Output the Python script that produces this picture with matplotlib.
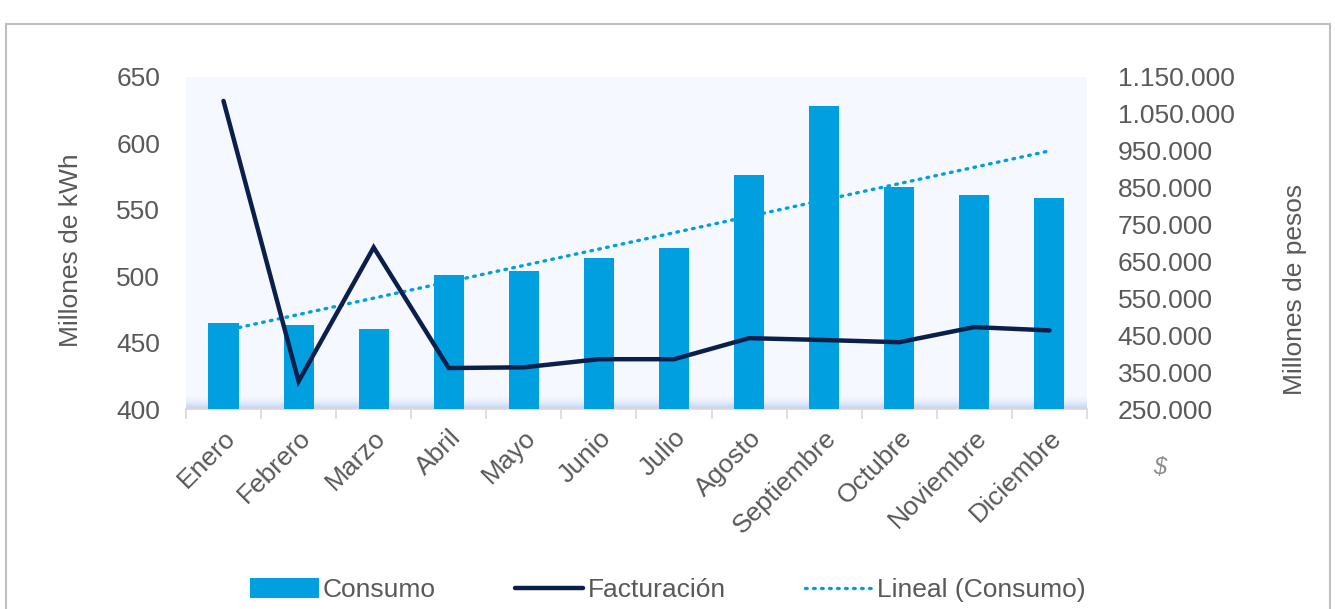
import matplotlib.pyplot as plt
import numpy as np
from matplotlib.patches import Rectangle
from matplotlib.lines import Line2D
from matplotlib.patches import Patch
from matplotlib.colors import LinearSegmentedColormap

meses = ["Enero", "Febrero", "Marzo", "Abril", "Mayo", "Junio", "Julio",
         "Agosto", "Septiembre", "Octubre", "Noviembre", "Diciembre"]
consumo = [465, 463, 460, 501, 504, 514, 521, 576, 628, 567, 561, 559]
facturacion = [1085000, 325000, 688000, 361000, 363000, 385000, 385000,
               442000, 437000, 431000, 472000, 463000]

left_ticks = [400, 450, 500, 550, 600, 650]
right_ticks = [250000, 350000, 450000, 550000, 650000, 750000, 850000,
               950000, 1050000, 1150000]

gris = "#595959"
azul = "#009FDF"
navy = "#0B1F4B"
fs = 19

plt.rcParams['font.family'] = ['Liberation Sans', 'DejaVu Sans']

fig = plt.figure(figsize=(13.35, 6.09), dpi=100)
ax = fig.add_axes([0.1393, 0.3284, 0.6749, 0.5452])
ax.set_facecolor("#F5F9FF")

x = np.arange(len(meses))

# linea de tendencia (detras de las barras)
coef = np.polyfit(x, consumo, 1)
trend = np.polyval(coef, x)
ax.plot(x, trend, color=azul, lw=2.4, linestyle=(0, (0.5, 1.9)),
        dash_capstyle='round', zorder=2)

ax.bar(x, consumo, width=0.4, color=azul, zorder=3)

# franja inferior degradada
grad = np.linspace(0, 1, 50).reshape(-1, 1)
cmap = LinearSegmentedColormap.from_list("g", ["#C0D2F5", "#E6EEFC", "#F5F9FF"])
ax.imshow(grad, cmap=cmap, extent=(0, 1, 0, 0.04), transform=ax.transAxes,
          aspect='auto', origin='lower', zorder=1)

ax.set_xlim(-0.5, len(meses) - 0.5)
ax.set_ylim(400, 650)
ax.set_yticks(left_ticks)
ax.set_xticks(x)
ax.set_xticklabels(meses, rotation=45, ha='right', rotation_mode='anchor')
ax.tick_params(axis='x', length=0, pad=12, labelsize=fs, colors=gris)
ax.set_xticks(np.arange(-0.5, len(meses), 1), minor=True)
ax.tick_params(axis='x', which='minor', length=7, color="#D9D9D9", width=1.2)
ax.tick_params(axis='y', length=0, labelsize=fs, colors=gris, pad=18.5)
for s in ["top", "left", "right"]:
    ax.spines[s].set_visible(False)
ax.spines["bottom"].set_color("#D9D9D9")
ax.spines["bottom"].set_linewidth(1.2)
ax.set_ylabel("Millones de kWh", fontsize=fs, color=gris)
ax.yaxis.set_label_coords((83 - 186) / 901, (409 - 250) / 332)

ax2 = ax.twinx()
ax2.plot(x, facturacion, color=navy, lw=3.2, solid_capstyle='round',
         solid_joinstyle='miter', zorder=5)
ax2.set_ylim(250000, 1150000)
ax2.set_yticks(right_ticks)
ax2.set_yticklabels([f"{v:,}".replace(",", ".") for v in right_ticks])
ax2.tick_params(axis='y', length=0, labelsize=fs, colors=gris, pad=22)
for s in ["top", "left", "right", "bottom"]:
    ax2.spines[s].set_visible(False)
ax2.set_ylabel("Millones de pesos", fontsize=fs, color=gris)
ax2.yaxis.set_label_coords((1283 - 186) / 901, (409 - 289) / 332)

fig.text(1160 / 1335, 1 - 468 / 609, "$", fontsize=17, color="#8C8C8C",
         style='italic', ha='center', va='center')

handles = [Patch(facecolor=azul),
           Line2D([0], [0], color=navy, lw=3.2, solid_capstyle='round'),
           Line2D([0], [0], color=azul, lw=2.4, linestyle=(0, (0.5, 1.9)),
                  dash_capstyle='round')]
leg = fig.legend(handles, ["Consumo", "Facturación", "Lineal (Consumo)"],
                 loc='center', bbox_to_anchor=(668 / 1335, 1 - 590 / 609),
                 ncol=3, frameon=False, fontsize=fs, handlelength=2.6,
                 handletextpad=0.15, columnspacing=3.0, handleheight=0.8)
for t in leg.get_texts():
    t.set_color(gris)

fig.patches.append(Rectangle((6 / 1335, -0.1), 1324 / 1335, 1.1 - 24 / 609,
                             transform=fig.transFigure, fill=False,
                             edgecolor="#BFBFBF", lw=1.5))

fig.savefig("out.png", dpi=100)
